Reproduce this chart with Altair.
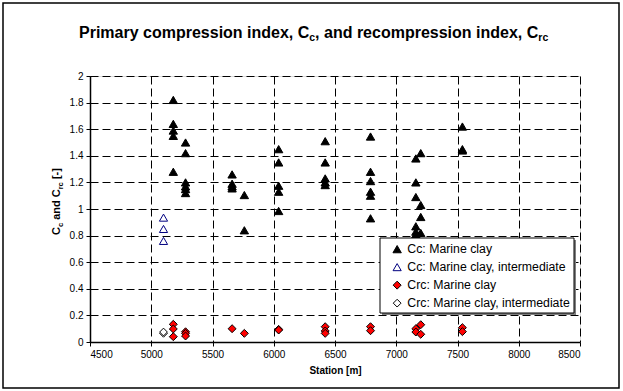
import altair as alt
import pandas as pd

FONT = "Liberation Sans"

# ---- data -------------------------------------------------------------
series_names = ["Cc: Marine clay", "Cc: Marine clay, intermediate",
                "Crc: Marine clay", "Crc: Marine clay, intermediate"]

cc_station = [5180, 5180, 5180, 5180, 5180,
              5280, 5280, 5280, 5280, 5280, 5280,
              5660, 5660, 5660, 5660,
              5760, 5760,
              6040, 6040, 6040, 6040, 6040,
              6420, 6420, 6420, 6420, 6420,
              6790, 6790, 6790, 6790, 6790, 6790,
              7160, 7160, 7160, 7160, 7160, 7160,
              7200, 7200, 7200, 7200,
              7540, 7540, 7540]
cc_value = [1.82, 1.64, 1.59, 1.55, 1.28,
            1.50, 1.42, 1.20, 1.17, 1.15, 1.12,
            1.26, 1.19, 1.17, 1.155,
            1.105, 0.84,
            1.45, 1.35, 1.175, 1.13, 0.985,
            1.51, 1.35, 1.23, 1.20, 1.18,
            1.545, 1.28, 1.21, 1.13, 1.10, 0.93,
            1.38, 1.20, 1.09, 0.87, 0.83, 0.81,
            1.42, 1.03, 0.94, 0.82,
            1.62, 1.45, 1.44]

cc_int_station = [5100, 5100, 5100]
cc_int_value = [0.935, 0.85, 0.76]

crc_station = [5180, 5180, 5180,
               5280, 5280, 5280,
               5660, 5760,
               6040, 6040,
               6420, 6420, 6420,
               6790, 6790,
               7160, 7160,
               7200, 7200,
               7540, 7540]
crc_value = [0.133, 0.098, 0.04,
             0.077, 0.065, 0.045,
             0.10, 0.065,
             0.095, 0.09,
             0.115, 0.083, 0.065,
             0.115, 0.085,
             0.10, 0.075,
             0.13, 0.058,
             0.108, 0.078]

crc_int_station = [5100, 5100]
crc_int_value = [0.065, 0.075]

x_ticks = [4500, 5000, 5500, 6000, 6500, 7000, 7500, 8000, 8500]
y_ticks = [0, 0.2, 0.4, 0.6, 0.8, 1.0, 1.2, 1.4, 1.6, 1.8, 2.0]

# ---- table ------------------------------------------------------------
rows = []
for name, st, va in [(series_names[0], cc_station, cc_value),
                     (series_names[1], cc_int_station, cc_int_value),
                     (series_names[2], crc_station, crc_value),
                     (series_names[3], crc_int_station, crc_int_value)]:
    for s, v in zip(st, va):
        rows.append({"station": s, "value": v, "series": name})
df = pd.DataFrame(rows)

W, H = 490, 266

leg = alt.Legend(title=None, orient="none", legendX=292, legendY=163,
                 labelFont=FONT, labelFontSize=12.3, labelColor="black",
                 labelLimit=400, symbolStrokeWidth=1, rowPadding=5, padding=4,
                 symbolOffset=5, labelOffset=4, symbolSize=60)

points = alt.Chart(df).mark_point(filled=True, opacity=1, strokeWidth=1).encode(
    x=alt.X("station:Q", scale=alt.Scale(domain=[4500, 8500], nice=False, zero=False),
            axis=alt.Axis(values=x_ticks, format="d", title="Station [m]",
                          grid=True, gridDash=[8, 4], gridColor="black", gridWidth=1,
                          domainColor="black", domainWidth=1.5, tickColor="black",
                          tickSize=4, tickWidth=1, labelFont=FONT, labelFontSize=10,
                          labelColor="black", labelPadding=3, titleFont=FONT,
                          titleFontSize=10, titleFontWeight="bold", titleColor="black",
                          titlePadding=6)),
    y=alt.Y("value:Q", scale=alt.Scale(domain=[0, 2], nice=False),
            axis=alt.Axis(values=y_ticks, format=".1~f", title=None,
                          grid=True, gridDash=[8, 4], gridColor="black", gridWidth=1,
                          domainColor="black", domainWidth=1.5, tickColor="black",
                          tickSize=4, tickWidth=1, labelFont=FONT, labelFontSize=10,
                          labelColor="black", labelPadding=3)),
    shape=alt.Shape("series:N", scale=alt.Scale(domain=series_names,
                    range=["triangle-up", "triangle-up", "diamond", "diamond"]), legend=leg),
    fill=alt.Fill("series:N", scale=alt.Scale(domain=series_names,
                  range=["black", "white", "#FF0000", "white"]), legend=leg),
    stroke=alt.Stroke("series:N", scale=alt.Scale(domain=series_names,
                      range=["black", "#000080", "black", "black"]), legend=leg),
    size=alt.Size("series:N", scale=alt.Scale(domain=series_names,
                  range=[70, 60, 55, 50]), legend=leg),
)

one = alt.Data(values=[{}])


def box(x1, y1, x2, y2, fill, stroke, sw):
    kw = dict(strokeWidth=sw)
    if fill is None:
        kw["fillOpacity"] = 0
        kw["fill"] = "white"
    else:
        kw["fill"] = fill
    if stroke is not None:
        kw["stroke"] = stroke
    return alt.Chart(one).mark_rect(**kw).encode(
        x=alt.value(x1), x2=alt.value(x2), y=alt.value(y1), y2=alt.value(y2))


def txt(s, x, y, size, angle=0):
    return alt.Chart(one).mark_text(
        text=s, font=FONT, fontSize=size, fontWeight="bold", color="black",
        align="left", baseline="alphabetic", angle=angle).encode(
        x=alt.value(x), y=alt.value(y))


border = box(-87, -73, 529, 312, None, "black", 1.5)
shadow = box(292, 164, 486, 239, "#808080", None, 0)
legbox = box(290, 162, 484, 237, "white", "black", 1)

# title with subscripts (positions relative to plot origin)
ox, oy = 90, 76
t_base = 38 - oy
title_parts = [
    txt("Primary compression index, C", 79 - ox, t_base, 16),
    txt("c", 309.3 - ox, t_base + 3, 10.5),
    txt(", and recompression index, C", 315.1 - ox, t_base, 16),
    txt("rc", 538.3 - ox, t_base + 3, 10.5),
]

# rotated y-axis title with subscripts (leading spaces folded into positions)
yb = 60 - ox
ys = 62.5 - ox
ytitle = [
    txt("C", yb, 235 - oy, 11, 270),
    txt("c", ys, 227.1 - oy, 7.5, 270),
    txt("and C", yb, 219.8 - oy, 11, 270),
    txt("rc", ys, 189.3 - oy, 7.5, 270),
    txt("[-]", yb, 179.1 - oy, 11, 270),
]

chart = alt.layer(border, points, shadow, legbox, *title_parts, *ytitle).properties(
    width=W, height=H,
    autosize=alt.AutoSizeParams(type="none"),
    padding={"left": ox, "top": oy, "right": 623 - ox - W, "bottom": 391 - oy - H},
).configure_view(stroke=None).configure(background="white")

chart.save("out.html", embed_options={"renderer": "svg", "actions": False})
